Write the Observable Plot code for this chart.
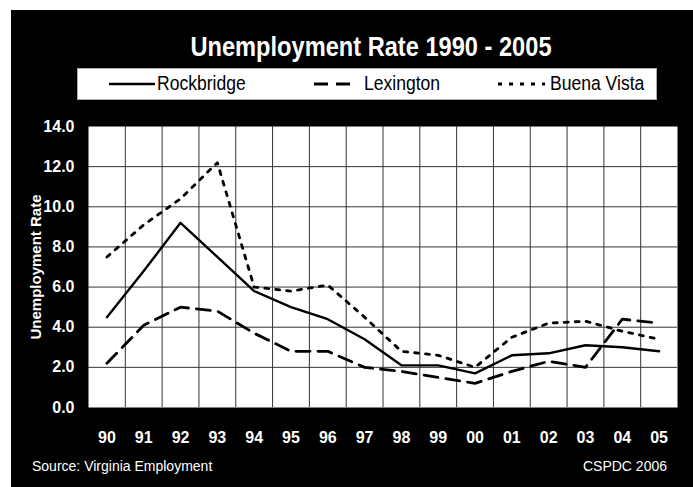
<!DOCTYPE html>
<html><head><meta charset="utf-8">
<script src="https://cdn.jsdelivr.net/npm/d3@7"></script>
<script src="https://cdn.jsdelivr.net/npm/@observablehq/plot@0.6"></script>
<style>
body{margin:0;background:#fff;font-family:"Liberation Sans",Arial,sans-serif;}
#box{position:absolute;left:11px;top:10px;width:682px;height:477px;background:#000;overflow:hidden;}
#title{position:absolute;left:110px;width:500px;top:24px;text-align:center;color:#fff;font-weight:bold;font-size:27px;line-height:27px;transform:scaleX(0.875);transform-origin:250px 0;white-space:nowrap;}
#legend{position:absolute;left:66px;top:58px;}
#chart{position:absolute;left:0;top:100px;}
.foot{position:absolute;top:449px;color:#fff;font-size:14px;line-height:14px;white-space:nowrap;}
</style></head>
<body>
<div id="box">
  <div id="title">Unemployment Rate 1990 - 2005</div>
  <svg id="legend" width="580" height="32"></svg>
  <div id="chart"></div>
  <div class="foot" style="left:21px">Source: Virginia Employment</div>
  <div class="foot" style="right:26px">CSPDC 2006</div>
</div>
<script>
const years = ["90","91","92","93","94","95","96","97","98","99","00","01","02","03","04","05"];
const rockbridge = [4.5,6.8,9.2,7.5,5.8,5.0,4.4,3.4,2.1,2.1,1.7,2.6,2.7,3.1,3.0,2.8];
const lexington  = [2.2,4.1,5.0,4.8,3.7,2.8,2.8,2.0,1.8,1.5,1.2,1.8,2.3,2.0,4.4,4.2];
const buenaVista = [7.5,9.1,10.4,12.2,6.0,5.8,6.1,4.5,2.8,2.6,2.0,3.5,4.2,4.3,3.8,3.4];
const seriesNames = ["Rockbridge","Lexington","Buena Vista"];
const yTicks = [0,2,4,6,8,10,12,14];

const dashes = {"Rockbridge": null, "Lexington": "14,8", "Buena Vista": "4,7"};
const widths = {"Rockbridge": 2.4, "Lexington": 2.8, "Buena Vista": 2.8};
const values = {"Rockbridge": rockbridge, "Lexington": lexington, "Buena Vista": buenaVista};

const data = seriesNames.flatMap(s => years.map((y, i) => ({i, year: y, series: s, v: values[s][i]})));

// legend
const leg = d3.select("#legend");
leg.append("rect").attr("x",0.5).attr("y",0.5).attr("width",579).attr("height",31)
  .attr("fill","#fff").attr("stroke","#aaa");
const legItems = [
  {name:"Rockbridge", x1:32, x2:78, tx:80},
  {name:"Lexington", x1:237, x2:278, tx:287},
  {name:"Buena Vista", x1:421, x2:468, tx:473}
];
legItems.forEach(d => {
  leg.append("line").attr("x1",d.x1).attr("x2",d.x2).attr("y1",16).attr("y2",16)
    .attr("stroke","#000").attr("stroke-width",widths[d.name])
    .attr("stroke-dasharray",dashes[d.name]);
  leg.append("text").attr("transform",`translate(${d.tx},21.5) scale(0.9,1)`)
    .attr("font-size",19.5).attr("fill","#000").text(d.name);
});

const marks = [
  Plot.frame({fill:"#fff", stroke:null}),
  Plot.ruleY(yTicks.filter(t => t > 0 && t < 14), {stroke:"#333", strokeWidth:1}),
  Plot.ruleX(d3.range(years.length - 1).map(i => i + 0.5), {stroke:"#333", strokeWidth:1}),
  Plot.axisY(yTicks, {tickSize:0, tickPadding:14, tickFormat: d => d.toFixed(1), fontSize:16, fontWeight:"bold", label:null}),
  Plot.axisX(d3.range(years.length), {tickSize:0, tickPadding:24, tickFormat: i => years[i], fontSize:16, fontWeight:"bold", label:null}),
  Plot.text(["Unemployment Rate"], {frameAnchor:"left", textAnchor:"middle", rotate:-90, dx:-52, fontSize:15, fontWeight:"bold", fill:"#fff", letterSpacing:1})
];
seriesNames.forEach(s => {
  marks.push(Plot.lineY(data.filter(d => d.series === s), {
    x:"i", y:"v", stroke:"#000", strokeWidth:widths[s], strokeDasharray:dashes[s]
  }));
});

const chart = Plot.plot({
  width:682, height:377,
  marginLeft:77, marginRight:16, marginTop:16, marginBottom:80,
  style:{background:"#000", color:"#fff", fontSize:"16px", fontFamily:'"Liberation Sans", Arial, sans-serif'},
  x:{domain:[-0.5, 15.5]},
  y:{domain:[0, 14]},
  marks
});
document.getElementById("chart").appendChild(chart);
</script>
</body></html>
